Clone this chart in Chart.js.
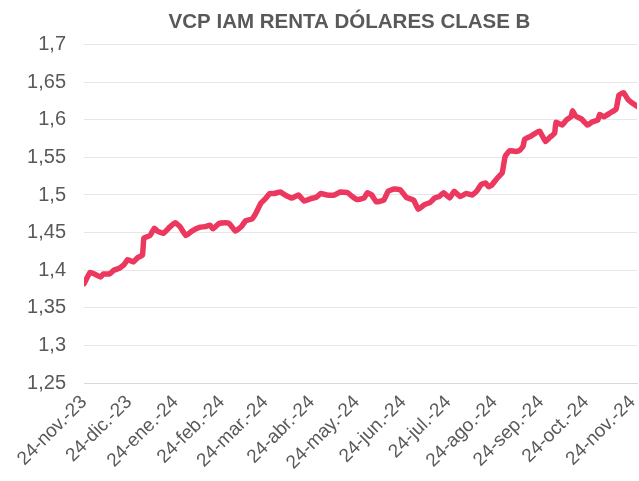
<!DOCTYPE html>
<html lang="es">
<head>
<meta charset="UTF-8">
<title>VCP IAM RENTA DÓLARES CLASE B</title>
<script src="https://cdn.jsdelivr.net/npm/chart.js@4"></script>
<style>
  body { margin: 0; background: #fff; }
  #wrap { width: 639px; height: 481px; }
</style>
</head>
<body>
<div id="wrap"><canvas id="chart" width="639" height="481"></canvas></div>
<script>
// Days since 24-nov-2023 and fund unit value (VCP)
const days = [
  0, 4, 7, 11, 13, 17, 20, 24, 27, 29, 33, 36, 39, 40, 44, 47, 49, 53, 57, 61,
  64, 68, 72, 77, 81, 84, 86, 90, 94, 97, 101, 105, 108, 112, 115, 118, 121, 124, 127, 131,
  135, 139, 143, 147, 151, 155, 158, 162, 167, 171, 176, 179, 182, 187, 189, 192, 195, 200, 203, 207,
  211, 215, 220, 223, 227, 231, 234, 237, 240, 244, 247, 251, 255, 259, 262, 265, 268, 270, 272, 276,
  279, 281, 284, 288, 291, 293, 294, 298, 301, 304, 308, 311, 314, 315, 319, 322, 325, 326, 328, 332,
  336, 339, 343, 344, 347, 351, 355, 357, 360, 363, 366, 369
];
const vcp = [
  1.382, 1.397, 1.395, 1.391, 1.395, 1.395, 1.400, 1.403, 1.408, 1.414, 1.411, 1.417, 1.420, 1.443, 1.446, 1.456, 1.452, 1.449, 1.457, 1.463,
  1.458, 1.446, 1.452, 1.457, 1.458, 1.460, 1.455, 1.462, 1.463, 1.462, 1.452, 1.458, 1.466, 1.468, 1.477, 1.489, 1.495, 1.502, 1.502, 1.504,
  1.499, 1.496, 1.500, 1.492, 1.495, 1.497, 1.502, 1.500, 1.500, 1.504, 1.503, 1.498, 1.494, 1.496, 1.503, 1.500, 1.491, 1.493, 1.505, 1.508,
  1.507, 1.497, 1.493, 1.481, 1.487, 1.490, 1.496, 1.498, 1.503, 1.496, 1.505, 1.498, 1.502, 1.500, 1.505, 1.514, 1.516, 1.511, 1.513, 1.523,
  1.529, 1.551, 1.559, 1.558, 1.560, 1.565, 1.574, 1.578, 1.582, 1.585, 1.571, 1.577, 1.582, 1.597, 1.593, 1.600, 1.604, 1.612, 1.605, 1.601,
  1.593, 1.597, 1.600, 1.607, 1.604, 1.609, 1.614, 1.633, 1.636, 1.627, 1.622, 1.618
];

// Monthly tick positions (days) and their labels
const tickDays = [0, 30, 61, 92, 121, 152, 182, 213, 243, 274, 305, 335, 366];
const tickLabels = [
  '24-nov.-23', '24-dic.-23', '24-ene.-24', '24-feb.-24', '24-mar.-24', '24-abr.-24', '24-may.-24',
  '24-jun.-24', '24-jul.-24', '24-ago.-24', '24-sep.-24', '24-oct.-24', '24-nov.-24'
];
const lastDay = 369;

const chartTitle = 'VCP IAM RENTA DÓLARES CLASE B';
const fontFamily = "'Liberation Sans', Arial, sans-serif";
const textColor = '#595959';

const points = days.map((d, i) => ({ x: d, y: vcp[i] }));

// the title sits a little left of the plot centre, as in the original
const shiftTitle = {
  id: 'shiftTitle',
  afterLayout(chart) {
    if (chart.titleBlock) chart.titleBlock.left -= 22;
  }
};

new Chart(document.getElementById('chart'), {
  type: 'line',
  data: {
    datasets: [{
      data: points,
      borderColor: '#EC385F',
      borderWidth: 5.5,
      borderCapStyle: 'round',
      borderJoinStyle: 'round',
      pointRadius: 0,
      tension: 0.1,
      fill: false
    }]
  },
  options: {
    responsive: false,
    animation: false,
    layout: { padding: { top: 0, right: 2, bottom: 0, left: 0 } },
    plugins: {
      legend: { display: false },
      tooltip: { enabled: false },
      title: {
        display: true,
        text: chartTitle,
        fullSize: false,
        color: textColor,
        font: { family: fontFamily, size: 20.5, weight: 'bold', lineHeight: 1.2 },
        padding: { top: 10, bottom: 10 }
      }
    },
    scales: {
      x: {
        type: 'linear',
        min: 0,
        max: lastDay,
        afterBuildTicks: (scale) => { scale.ticks = tickDays.map(v => ({ value: v })); },
        afterFit: (scale) => {
          scale.height = 98;
          scale.paddingLeft = 0;
          scale.paddingRight = 0;
        },
        grid: { display: false, drawTicks: false },
        border: { display: true, color: '#D9D9D9', width: 1 },
        ticks: {
          autoSkip: false,
          minRotation: 45,
          maxRotation: 45,
          padding: 8,
          color: textColor,
          font: { family: fontFamily, size: 19 },
          callback: (value) => {
            const i = tickDays.indexOf(value);
            return i >= 0 ? tickLabels[i] : '';
          }
        }
      },
      y: {
        min: 1.25,
        max: 1.7,
        afterFit: (scale) => { scale.width = 84; },
        grid: { color: '#E6E6E6', lineWidth: 1, drawTicks: false },
        border: { display: false },
        ticks: {
          stepSize: 0.05,
          padding: 18,
          color: textColor,
          font: { family: fontFamily, size: 20 },
          callback: (value) => String(Math.round(value * 100) / 100).replace('.', ',')
        }
      }
    }
  },
  plugins: [shiftTitle]
});
</script>
</body>
</html>
